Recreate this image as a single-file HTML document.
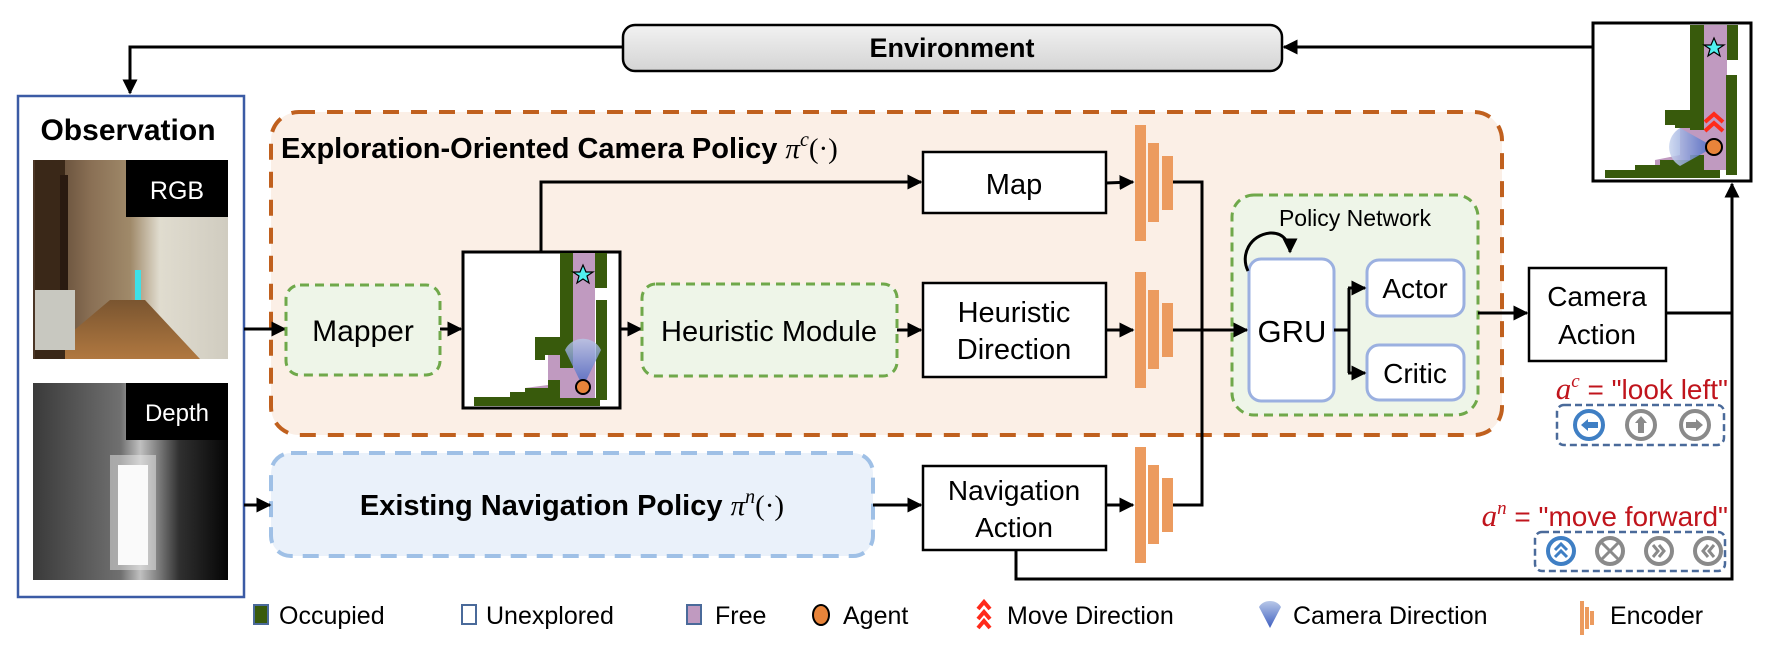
<!DOCTYPE html>
<html><head><meta charset="utf-8"><style>
html,body{margin:0;padding:0;background:#fff;}
svg{display:block;font-family:"Liberation Sans",sans-serif;}
</style></head><body>
<svg width="1771" height="645" viewBox="0 0 1771 645" xmlns="http://www.w3.org/2000/svg">
<defs>
<marker id="ar" viewBox="0 0 10 10" refX="9" refY="5" markerWidth="5" markerHeight="5" orient="auto-start-reverse"><path d="M0,0 L10,5 L0,10 z" fill="#000"/></marker>
<linearGradient id="env" x1="0" y1="0" x2="0" y2="1"><stop offset="0" stop-color="#f2f2f2"/><stop offset="1" stop-color="#d4d4d4"/></linearGradient>
<linearGradient id="cone" x1="0" y1="1" x2="0" y2="0"><stop offset="0" stop-color="#3f5fc0"/><stop offset="1" stop-color="#b8c8e8"/></linearGradient>
<linearGradient id="coneL" x1="1" y1="0" x2="0" y2="0"><stop offset="0" stop-color="#3f5fc0"/><stop offset="1" stop-color="#c8d4ee"/></linearGradient>
<linearGradient id="rgbL" x1="0" y1="0" x2="1" y2="0"><stop offset="0" stop-color="#4a3525"/><stop offset="0.3" stop-color="#8a7055"/><stop offset="0.5" stop-color="#a08a6a"/><stop offset="0.65" stop-color="#e0dccf"/><stop offset="1" stop-color="#d0ccc0"/></linearGradient>
<linearGradient id="floor" x1="0" y1="0" x2="0" y2="1"><stop offset="0" stop-color="#7a5530"/><stop offset="1" stop-color="#b07840"/></linearGradient>
<linearGradient id="dep" x1="0" y1="0" x2="1" y2="0"><stop offset="0" stop-color="#3a3a3a"/><stop offset="0.45" stop-color="#707070"/><stop offset="0.55" stop-color="#c0c0c0"/><stop offset="0.75" stop-color="#303030"/><stop offset="1" stop-color="#050505"/></linearGradient>
</defs>

<rect x="623" y="25" width="659" height="46" rx="12" fill="url(#env)" stroke="#000" stroke-width="2.5"/>
<text x="952" y="57" font-size="27" font-weight="bold" text-anchor="middle">Environment</text>
<line x1="1593" y1="47" x2="1284" y2="47" stroke="#000" stroke-width="3" marker-end="url(#ar)"/>
<polyline points="623,47 130,47 130,93" fill="none" stroke="#000" stroke-width="3" marker-end="url(#ar)"/>

<rect x="18" y="96" width="226" height="501" fill="#fff" stroke="#3b5ba5" stroke-width="2.5"/>
<text x="128" y="140" font-size="30" font-weight="bold" text-anchor="middle">Observation</text>
<rect x="33" y="160" width="195" height="199" fill="url(#rgbL)"/>
<polygon points="110,300 145,300 200,359 40,359" fill="url(#floor)"/>
<rect x="35" y="160" width="30" height="199" fill="#3a2818"/>
<rect x="60" y="175" width="8" height="175" fill="#2a1a10"/>
<rect x="35" y="290" width="40" height="60" fill="#c8c8c0"/>
<rect x="135" y="270" width="6" height="30" fill="#3ee0e8"/>
<rect x="126" y="160" width="102" height="57" fill="#000"/>
<text x="177" y="199" font-size="25" fill="#fff" text-anchor="middle">RGB</text>
<rect x="33" y="383" width="195" height="197" fill="url(#dep)"/>
<rect x="110" y="455" width="46" height="115" fill="#e8e8e8" opacity="0.5"/>
<rect x="118" y="465" width="30" height="100" fill="#fafafa"/>
<rect x="126" y="383" width="102" height="57" fill="#000"/>
<text x="177" y="421" font-size="24" fill="#fff" text-anchor="middle">Depth</text>

<rect x="271" y="112" width="1231" height="323" rx="28" fill="#fbefe6" stroke="#c0601e" stroke-width="4" stroke-dasharray="16,12"/>
<text x="281" y="158" font-size="29" font-weight="bold">Exploration-Oriented Camera Policy <tspan font-family="Liberation Serif" font-style="italic" font-weight="normal">π</tspan><tspan font-family="Liberation Serif" font-style="italic" font-weight="normal" font-size="20" dy="-12">c</tspan><tspan font-family="Liberation Serif" font-weight="normal" dy="12">(·)</tspan></text>

<rect x="271" y="453" width="602" height="103" rx="20" fill="#eaf1fa" stroke="#9fc0e6" stroke-width="4" stroke-dasharray="16,10"/>
<text x="572" y="515" font-size="29" font-weight="bold" text-anchor="middle">Existing Navigation Policy <tspan font-family="Liberation Serif" font-style="italic" font-weight="normal">π</tspan><tspan font-family="Liberation Serif" font-style="italic" font-weight="normal" font-size="20" dy="-12">n</tspan><tspan font-family="Liberation Serif" font-weight="normal" dy="12">(·)</tspan></text>

<line x1="244" y1="329" x2="285" y2="329" stroke="#000" stroke-width="3" marker-end="url(#ar)"/>
<line x1="244" y1="505" x2="270" y2="505" stroke="#000" stroke-width="3" marker-end="url(#ar)"/>

<rect x="286" y="285" width="154" height="90" rx="14" fill="#eef5e8" stroke="#6fa84a" stroke-width="3" stroke-dasharray="9,6"/>
<text x="363" y="341" font-size="30" text-anchor="middle">Mapper</text>
<line x1="440" y1="329" x2="461" y2="329" stroke="#000" stroke-width="3" marker-end="url(#ar)"/>

<rect x="463" y="252" width="157" height="156" fill="#fff" stroke="#000" stroke-width="3"/>
<g>
<rect x="573" y="253" width="22" height="145" fill="#c09ac0"/>
<rect x="560" y="253" width="13" height="115" fill="#385a0c"/>
<rect x="595" y="253" width="12" height="35" fill="#385a0c"/>
<rect x="596" y="300" width="11" height="100" fill="#385a0c"/>
<polygon points="548,348 560,348 560,368 573,368 573,398 525,398 525,388 548,385" fill="#c09ac0"/>
<polygon points="535,337 560,337 560,355 545,355 545,360 535,360" fill="#385a0c"/>
<polygon points="474,397 510,397 510,392 525,392 525,388 548,388 548,380 560,380 560,398 600,398 600,406 474,406" fill="#385a0c"/>
<path d="M583,387 L565,350 A20,20 0 0 1 601,350 z" fill="url(#cone)" opacity="0.8"/>
<circle cx="583" cy="387" r="7" fill="#e8843a" stroke="#000" stroke-width="2"/>
<polygon points="583,265 586,272 593,272 587,276 589,283 583,279 577,283 579,276 573,272 580,272" fill="#4ff0f0" stroke="#000" stroke-width="1.2"/>
</g>
<polyline points="541,252 541,182 921,182" fill="none" stroke="#000" stroke-width="3" marker-end="url(#ar)"/>
<line x1="620" y1="329" x2="641" y2="329" stroke="#000" stroke-width="3" marker-end="url(#ar)"/>

<rect x="642" y="284" width="255" height="92" rx="14" fill="#eef5e8" stroke="#6fa84a" stroke-width="3" stroke-dasharray="9,6"/>
<text x="769" y="341" font-size="29" text-anchor="middle">Heuristic Module</text>
<line x1="897" y1="330" x2="921" y2="330" stroke="#000" stroke-width="3" marker-end="url(#ar)"/>

<rect x="923" y="152" width="183" height="61" fill="#fff" stroke="#000" stroke-width="2.5"/>
<text x="1014" y="194" font-size="29" text-anchor="middle">Map</text>
<rect x="923" y="283" width="183" height="94" fill="#fff" stroke="#000" stroke-width="2.5"/>
<text x="1014" y="322" font-size="29" text-anchor="middle">Heuristic</text>
<text x="1014" y="359" font-size="29" text-anchor="middle">Direction</text>
<line x1="873" y1="505" x2="921" y2="505" stroke="#000" stroke-width="3" marker-end="url(#ar)"/>
<rect x="923" y="466" width="183" height="84" fill="#fff" stroke="#000" stroke-width="2.5"/>
<text x="1014" y="500" font-size="28" text-anchor="middle">Navigation</text>
<text x="1014" y="537" font-size="28" text-anchor="middle">Action</text>

<g fill="#ec9b5f">
<rect x="1135" y="125" width="11" height="116"/><rect x="1148" y="143" width="11" height="79"/><rect x="1162" y="156" width="11" height="54"/>
<rect x="1135" y="272" width="11" height="116"/><rect x="1148" y="290" width="11" height="79"/><rect x="1162" y="303" width="11" height="54"/>
<rect x="1135" y="447" width="11" height="116"/><rect x="1148" y="465" width="11" height="79"/><rect x="1162" y="478" width="11" height="54"/>
</g>
<line x1="1106" y1="183" x2="1133" y2="182" stroke="#000" stroke-width="3" marker-end="url(#ar)"/>
<line x1="1106" y1="330" x2="1133" y2="330" stroke="#000" stroke-width="3" marker-end="url(#ar)"/>
<line x1="1106" y1="505" x2="1133" y2="505" stroke="#000" stroke-width="3" marker-end="url(#ar)"/>
<polyline points="1173,182 1202,182 1202,505 1173,505" fill="none" stroke="#000" stroke-width="3"/>

<rect x="1232" y="195" width="246" height="220" rx="22" fill="#eef5e8" stroke="#6fa84a" stroke-width="3" stroke-dasharray="9,6"/>
<text x="1355" y="226" font-size="23" text-anchor="middle">Policy Network</text>
<line x1="1173" y1="330" x2="1247" y2="330" stroke="#000" stroke-width="3" marker-end="url(#ar)"/>
<rect x="1249" y="259" width="85" height="142" rx="12" fill="#fff" stroke="#9bb0e0" stroke-width="3"/>
<text x="1292" y="342" font-size="31" text-anchor="middle">GRU</text>
<path d="M1248,271 C1240,255 1250,235 1270,233 C1285,232 1290,245 1290,252" fill="none" stroke="#000" stroke-width="3" marker-end="url(#ar)"/>
<rect x="1367" y="260" width="97" height="56" rx="12" fill="#fff" stroke="#9bb0e0" stroke-width="3"/>
<text x="1415" y="298" font-size="28" text-anchor="middle">Actor</text>
<rect x="1367" y="345" width="97" height="55" rx="12" fill="#fff" stroke="#9bb0e0" stroke-width="3"/>
<text x="1415" y="383" font-size="28" text-anchor="middle">Critic</text>
<polyline points="1334,330 1349,330" fill="none" stroke="#000" stroke-width="3"/>
<polyline points="1349,288 1349,373" fill="none" stroke="#000" stroke-width="3"/>
<line x1="1348" y1="288" x2="1365" y2="288" stroke="#000" stroke-width="3" marker-end="url(#ar)"/>
<line x1="1348" y1="373" x2="1365" y2="373" stroke="#000" stroke-width="3" marker-end="url(#ar)"/>
<line x1="1478" y1="313" x2="1527" y2="313" stroke="#000" stroke-width="3" marker-end="url(#ar)"/>

<rect x="1529" y="268" width="137" height="93" fill="#fff" stroke="#000" stroke-width="2.5"/>
<text x="1597" y="306" font-size="28" text-anchor="middle">Camera</text>
<text x="1597" y="344" font-size="28" text-anchor="middle">Action</text>
<line x1="1666" y1="313" x2="1732" y2="313" stroke="#000" stroke-width="3"/>
<polyline points="1016,550 1016,579 1732,579 1732,184" fill="none" stroke="#000" stroke-width="3" marker-end="url(#ar)"/>

<rect x="1593" y="23" width="158" height="158" fill="#fff" stroke="#000" stroke-width="3"/>
<g>
<rect x="1704" y="25" width="23" height="145" fill="#c09ac0"/>
<rect x="1690" y="25" width="14" height="105" fill="#385a0c"/>
<rect x="1727" y="25" width="11" height="35" fill="#385a0c"/>
<rect x="1726" y="75" width="11" height="100" fill="#385a0c"/>
<polygon points="1680,120 1690,120 1690,130 1704,130 1704,170 1655,170 1655,160 1680,155" fill="#c09ac0"/>
<polygon points="1665,110 1690,110 1690,128 1675,128 1675,125 1665,125" fill="#385a0c"/>
<polygon points="1605,170 1635,170 1635,165 1660,165 1660,160 1690,160 1690,155 1704,155 1704,170 1720,170 1720,178 1605,178" fill="#385a0c"/>
<path d="M1714,147 L1680,128 A22,22 0 0 0 1680,166 z" fill="url(#coneL)" opacity="0.85"/>
<circle cx="1714" cy="147" r="8" fill="#e8843a" stroke="#000" stroke-width="2"/>
<polyline points="1705,122 1714,114 1723,122" fill="none" stroke="#ff2a1a" stroke-width="4"/>
<polyline points="1705,131 1714,123 1723,131" fill="none" stroke="#ff2a1a" stroke-width="4"/>
<polygon points="1714,38 1717,45 1724,45 1718,49 1720,56 1714,52 1708,56 1710,49 1704,45 1711,45" fill="#4ff0f0" stroke="#000" stroke-width="1.2"/>
</g>

<text x="1728" y="399" font-size="28" fill="#c0141c" text-anchor="end"><tspan font-family="Liberation Serif" font-style="italic" font-size="31">a</tspan><tspan font-family="Liberation Serif" font-style="italic" font-size="19" dy="-12">c</tspan><tspan dy="12"> = "look left"</tspan></text>
<rect x="1557" y="405" width="167" height="40" rx="7" fill="none" stroke="#4a6a9a" stroke-width="2.5" stroke-dasharray="7,4"/>
<circle cx="1589" cy="425" r="14" fill="#fff" stroke="#3f7fc4" stroke-width="4"/>
<path d="M1581,425 L1588,419 L1588,422 L1598,422 L1598,428 L1588,428 L1588,431 z" fill="#3f7fc4"/>
<circle cx="1641" cy="425" r="14" fill="#fff" stroke="#8a8a8a" stroke-width="4"/>
<path d="M1641,416 L1647,423 L1644,423 L1644,433 L1638,433 L1638,423 L1635,423 z" fill="#8a8a8a"/>
<circle cx="1695" cy="425" r="14" fill="#fff" stroke="#8a8a8a" stroke-width="4"/>
<path d="M1703,425 L1696,419 L1696,422 L1686,422 L1686,428 L1696,428 L1696,431 z" fill="#8a8a8a"/>

<text x="1728" y="526" font-size="28" fill="#c0141c" text-anchor="end"><tspan font-family="Liberation Serif" font-style="italic" font-size="31">a</tspan><tspan font-family="Liberation Serif" font-style="italic" font-size="19" dy="-12">n</tspan><tspan dy="12"> = "move forward"</tspan></text>
<rect x="1535" y="532" width="190" height="39" rx="7" fill="none" stroke="#4a6a9a" stroke-width="2.5" stroke-dasharray="7,4"/>
<circle cx="1561" cy="551" r="13" fill="#fff" stroke="#3f7fc4" stroke-width="4"/>
<polyline points="1555,550 1561,544 1567,550" fill="none" stroke="#3f7fc4" stroke-width="3"/>
<polyline points="1555,557 1561,551 1567,557" fill="none" stroke="#3f7fc4" stroke-width="3"/>
<circle cx="1610" cy="551" r="13" fill="#fff" stroke="#8a8a8a" stroke-width="4"/>
<path d="M1602,543 L1618,559 M1618,543 L1602,559" stroke="#8a8a8a" stroke-width="3"/>
<circle cx="1659" cy="551" r="13" fill="#fff" stroke="#8a8a8a" stroke-width="4"/>
<polyline points="1653,545 1658,551 1653,557" fill="none" stroke="#8a8a8a" stroke-width="3"/>
<polyline points="1659,545 1664,551 1659,557" fill="none" stroke="#8a8a8a" stroke-width="3"/>
<circle cx="1708" cy="551" r="13" fill="#fff" stroke="#8a8a8a" stroke-width="4"/>
<polyline points="1708,545 1703,551 1708,557" fill="none" stroke="#8a8a8a" stroke-width="3"/>
<polyline points="1714,545 1709,551 1714,557" fill="none" stroke="#8a8a8a" stroke-width="3"/>

<g font-size="25">
<rect x="254" y="605" width="14" height="19" fill="#385a0c" stroke="#4a6a9a" stroke-width="2"/>
<text x="279" y="624">Occupied</text>
<rect x="462" y="605" width="14" height="19" fill="#fff" stroke="#4a6a9a" stroke-width="2"/>
<text x="486" y="624">Unexplored</text>
<rect x="687" y="605" width="14" height="19" fill="#c09ac0" stroke="#4a6a9a" stroke-width="2"/>
<text x="715" y="624">Free</text>
<ellipse cx="821" cy="615" rx="8" ry="10" fill="#e8843a" stroke="#000" stroke-width="2"/>
<text x="843" y="624">Agent</text>
<polyline points="978,609 984,602 990,609" fill="none" stroke="#ff2a1a" stroke-width="4"/>
<polyline points="978,619 984,612 990,619" fill="none" stroke="#ff2a1a" stroke-width="4"/>
<polyline points="978,628 984,621 990,628" fill="none" stroke="#ff2a1a" stroke-width="4"/>
<text x="1007" y="624">Move Direction</text>
<path d="M1270,628 L1259,607 A12,10 0 0 1 1281,607 z" fill="url(#cone)"/>
<text x="1293" y="624">Camera Direction</text>
<rect x="1580" y="601" width="4" height="34" fill="#ec9b5f"/><rect x="1585" y="607" width="4" height="22" fill="#ec9b5f"/><rect x="1590" y="611" width="4" height="14" fill="#ec9b5f"/>
<text x="1610" y="624">Encoder</text>
</g>
</svg>
</body></html>
